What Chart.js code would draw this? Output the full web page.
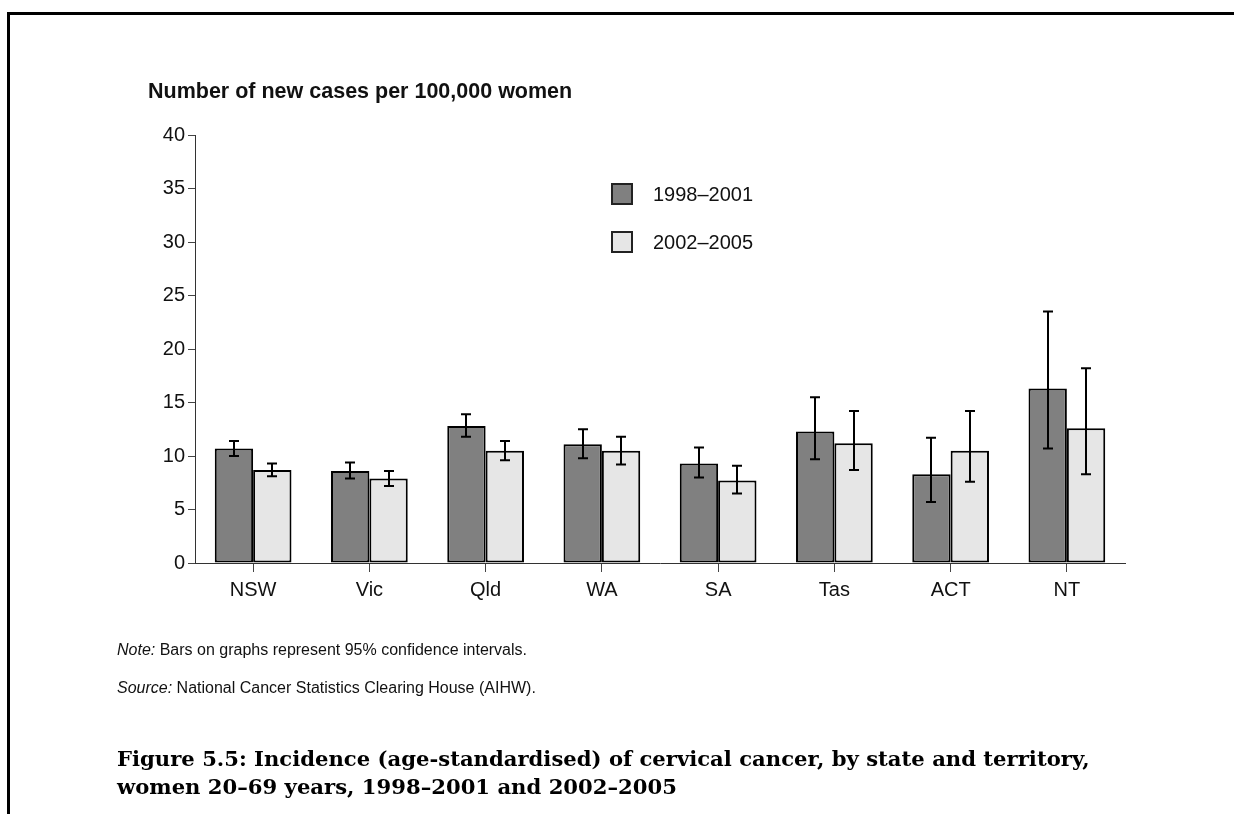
<!DOCTYPE html>
<html>
<head>
<meta charset="utf-8">
<script src="https://cdn.jsdelivr.net/npm/chart.js@4"></script>
<style>
  html, body { margin: 0; padding: 0; background: #fff; }
  body { width: 1234px; height: 814px; position: relative; overflow: hidden; font-family: 'Liberation Sans', Arial, sans-serif; color: #111; }
  #frame { position: absolute; left: 7px; top: 12px; width: 1300px; height: 900px; border-top: 3px solid #000; border-left: 3px solid #000; }
  #wrap { position: absolute; left: 0; top: 0; width: 1234px; height: 814px; }
  .txt { position: absolute; white-space: nowrap; }
  #ytitle { left: 148px; top: 79px; font-weight: bold; font-size: 21.5px; line-height: 24px; }
  #note { left: 117px; top: 640px; font-size: 16px; line-height: 20px; }
  #source { left: 117px; top: 678px; font-size: 16px; line-height: 20px; }
  #caption { left: 117px; top: 745px; font-family: 'DejaVu Serif', 'Liberation Serif', serif; font-weight: bold; font-size: 21px; line-height: 28px; color: #000; }
</style>
</head>
<body>
<div id="frame"></div>
<div id="wrap"><canvas id="chart"></canvas></div>
<div class="txt" id="ytitle">Number of new cases per 100,000 women</div>
<div class="txt" id="note"><i>Note:</i> Bars on graphs represent 95% confidence intervals.</div>
<div class="txt" id="source"><i>Source:</i> National Cancer Statistics Clearing House (AIHW).</div>
<div class="txt" id="caption"><span id="cap1">Figure 5.5: Incidence (age-standardised) of cervical cancer, by state and territory,</span><br><span id="cap2">women 20–69 years, 1998–2001 and 2002–2005</span></div>
<script>
// States and territories
const categories = ['NSW', 'Vic', 'Qld', 'WA', 'SA', 'Tas', 'ACT', 'NT'];

// Age-standardised incidence per 100,000 women, 1998–2001, with 95% CI
const rate1998 = [10.7, 8.6, 12.8, 11.1, 9.3, 12.3, 8.3, 16.3];
const low1998  = [10.0, 7.9, 11.8, 9.8, 8.0, 9.7, 5.7, 10.7];
const high1998 = [11.4, 9.4, 13.9, 12.5, 10.8, 15.5, 11.7, 23.5];

// Same for 2002–2005
const rate2002 = [8.7, 7.9, 10.5, 10.5, 7.7, 11.2, 10.5, 12.6];
const low2002  = [8.1, 7.2, 9.6, 9.2, 6.5, 8.7, 7.6, 8.3];
const high2002 = [9.3, 8.6, 11.4, 11.8, 9.1, 14.2, 14.2, 18.2];

// Value axis ticks
const yTicks = [0, 5, 10, 15, 20, 25, 30, 35, 40];

const periodLabels = ['1998–2001', '2002–2005'];
const lows = [low1998, low2002];
const highs = [high1998, high2002];

// Size the caption so its first line runs the width of the figure text block
(function fitCaption() {
  const cap = document.getElementById('caption');
  const line = document.getElementById('cap1');
  const target = 973;
  const base = parseFloat(getComputedStyle(cap).fontSize);
  const w = line.getBoundingClientRect().width;
  if (w > 0) cap.style.fontSize = (base * target / w).toFixed(2) + 'px';
})();

Chart.defaults.font.family = "'Liberation Sans', Arial, sans-serif";
Chart.defaults.color = '#111';

// Whiskers for the confidence intervals, placed through the y scale
const errorBars = {
  id: 'errorBars',
  afterDatasetsDraw(chart) {
    const ctx = chart.ctx;
    const y = chart.scales.y;
    ctx.save();
    ctx.strokeStyle = '#000';
    ctx.lineWidth = 2;
    chart.data.datasets.forEach((ds, i) => {
      const meta = chart.getDatasetMeta(i);
      meta.data.forEach((bar, j) => {
        const x = Math.round(bar.x);
        const yl = y.getPixelForValue(lows[i][j]);
        const yh = y.getPixelForValue(highs[i][j]);
        ctx.beginPath();
        ctx.moveTo(x, yl); ctx.lineTo(x, yh);
        ctx.moveTo(x - 5, yl); ctx.lineTo(x + 5, yl);
        ctx.moveTo(x - 5, yh); ctx.lineTo(x + 5, yh);
        ctx.stroke();
      });
    });
    ctx.restore();
  }
};

// Legend drawn inside the plot, two rows
const insetLegend = {
  id: 'insetLegend',
  afterDraw(chart) {
    const ctx = chart.ctx;
    ctx.save();
    ctx.font = "20px 'Liberation Sans', Arial, sans-serif";
    ctx.textBaseline = 'middle';
    chart.data.datasets.forEach((ds, i) => {
      const bx = 612, by = 184 + i * 48;
      ctx.fillStyle = ds.backgroundColor;
      ctx.fillRect(bx, by, 20, 20);
      ctx.strokeStyle = '#222';
      ctx.lineWidth = 2;
      ctx.strokeRect(bx, by, 20, 20);
      ctx.fillStyle = '#111';
      ctx.fillText(ds.label, 653, by + 11);
    });
    ctx.restore();
  }
};

new Chart(document.getElementById('chart'), {
  type: 'bar',
  data: {
    labels: categories,
    datasets: [
      { label: periodLabels[0], data: rate1998, backgroundColor: '#808080', borderColor: '#000', borderWidth: 2, borderSkipped: false },
      { label: periodLabels[1], data: rate2002, backgroundColor: '#e6e6e6', borderColor: '#000', borderWidth: 2, borderSkipped: false }
    ]
  },
  options: {
    responsive: true,
    maintainAspectRatio: false,
    animation: false,
    events: [],
    categoryPercentage: 0.66,
    barPercentage: 1.0,
    layout: { padding: { left: 135, right: 109, top: 135, bottom: 211 } },
    plugins: { legend: { display: false }, tooltip: { enabled: false } },
    scales: {
      x: {
        grid: { offset: false, drawOnChartArea: false, tickLength: 9, color: '#444', lineWidth: 1 },
        border: { color: '#333', width: 1 },
        ticks: { font: { size: 20 }, color: '#111', padding: 6 },
        afterFit(s) { s.height = 40; }
      },
      y: {
        min: 0, max: 40,
        afterBuildTicks(s) { s.ticks = yTicks.map(v => ({ value: v })); },
        grid: { drawOnChartArea: false, tickLength: 7, color: '#444', lineWidth: 1 },
        border: { color: '#333', width: 1 },
        ticks: { font: { size: 20 }, color: '#111', padding: 3 },
        afterFit(s) { s.width = 60; }
      }
    }
  },
  plugins: [errorBars, insetLegend]
});
</script>
</body>
</html>
